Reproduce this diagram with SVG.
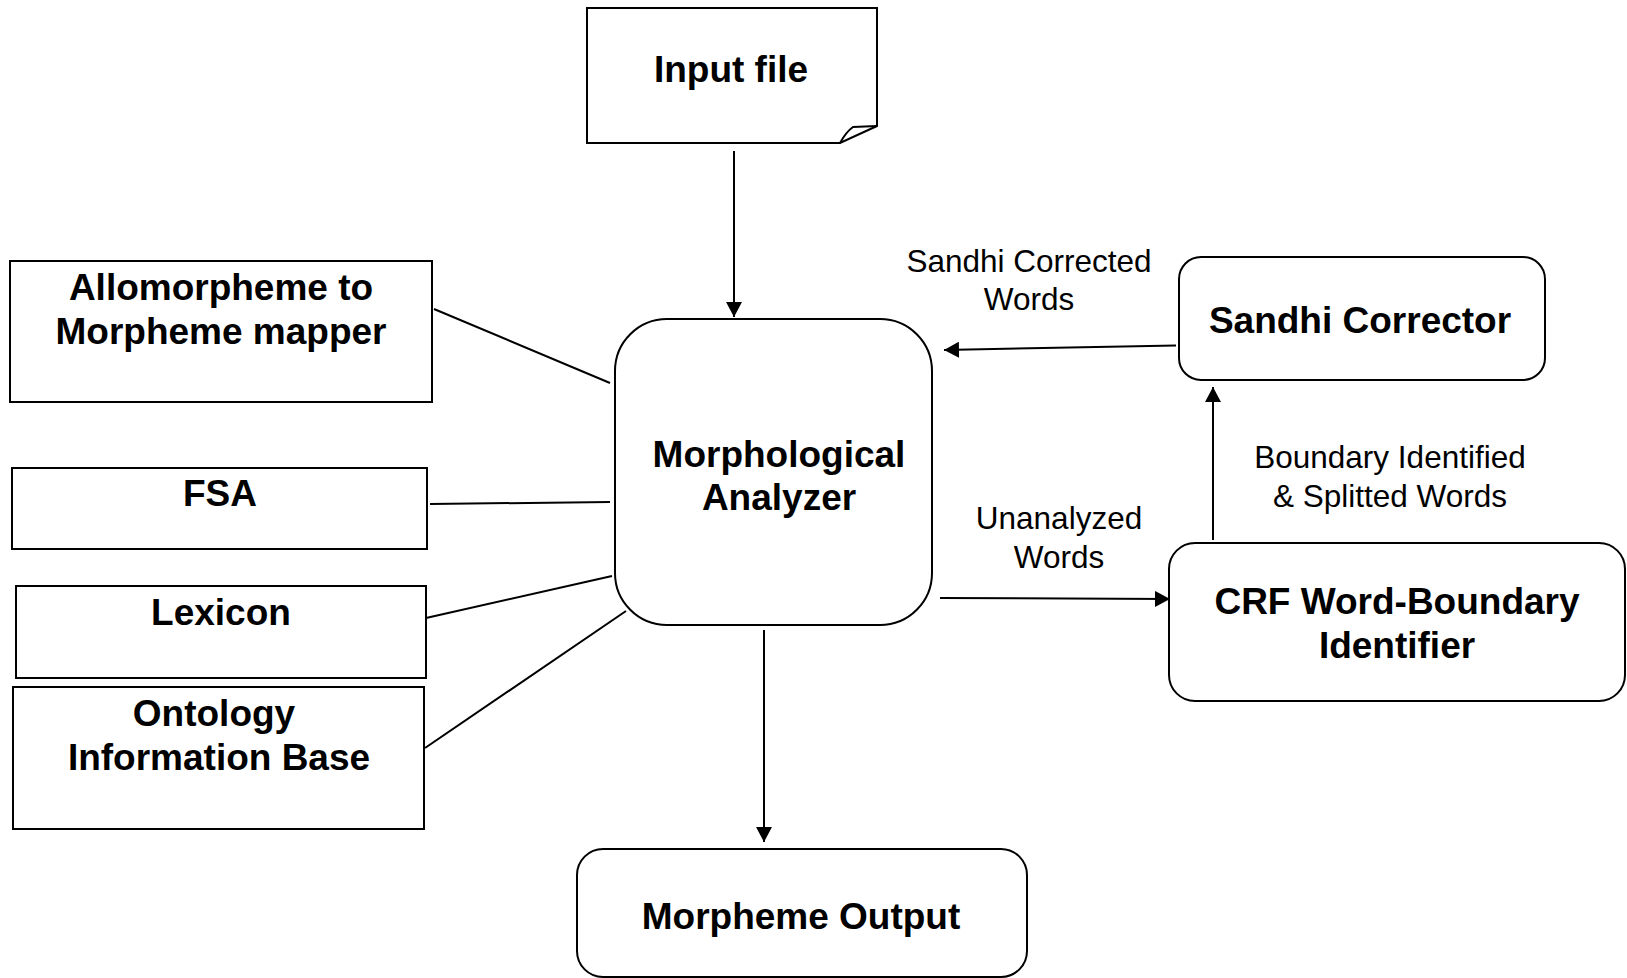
<svg xmlns="http://www.w3.org/2000/svg" width="1627" height="978" viewBox="0 0 1627 978">
<style>
.box{fill:#fff;stroke:#000;stroke-width:2}
.b{font-family:"Liberation Sans",Arial,sans-serif;font-weight:bold;font-size:37px;fill:#000;text-anchor:middle}
.r{font-family:"Liberation Sans",Arial,sans-serif;font-size:31.5px;fill:#000;text-anchor:middle}
.ln{stroke:#000;stroke-width:2;fill:none}
</style>
<defs>
<marker id="ah2" viewBox="0 0 15 16" refX="15" refY="8" markerWidth="15" markerHeight="16" markerUnits="userSpaceOnUse" orient="auto">
<path d="M0,0 L15,8 L0,16 z" fill="#000"/>
</marker>
</defs>
<rect width="1627" height="978" fill="#fff"/>
<g id="connectors">
<line class="ln" x1="734" y1="151" x2="734" y2="317" marker-end="url(#ah2)"/>
<line class="ln" x1="434" y1="309" x2="610" y2="383"/>
<line class="ln" x1="430" y1="504" x2="610" y2="502"/>
<line class="ln" x1="426" y1="618" x2="612" y2="576"/>
<line class="ln" x1="425" y1="748" x2="626" y2="611"/>
<line class="ln" x1="1176" y1="345.5" x2="944" y2="350" marker-end="url(#ah2)"/>
<line class="ln" x1="940" y1="598" x2="1170" y2="599" marker-end="url(#ah2)"/>
<line class="ln" x1="1213" y1="540" x2="1213" y2="387" marker-end="url(#ah2)"/>
<line class="ln" x1="764" y1="630" x2="764" y2="842" marker-end="url(#ah2)"/>
<text class="r" x="1029" y="272">Sandhi Corrected</text>
<text class="r" x="1029" y="310">Words</text>
<text class="r" x="1059" y="529">Unanalyzed</text>
<text class="r" x="1059" y="568">Words</text>
<text class="r" x="1390" y="468">Boundary Identified</text>
<text class="r" x="1390" y="507">&amp; Splitted Words</text>
</g>
<g id="input-file">
<path class="box" d="M587,8 H877 V126 L840,143 H587 Z"/>
<path class="ln" d="M840,143 Q846,132 853,127 L877,126"/>
<text class="b" x="731" y="82">Input file</text>
</g>
<g id="morphological-analyzer">
<rect class="box" x="615" y="319" width="317" height="306" rx="52" ry="52"/>
<text class="b" x="779" y="467">Morphological</text>
<text class="b" x="779" y="510">Analyzer</text>
</g>
<g id="allomorpheme">
<rect class="box" x="10" y="261" width="422" height="141"/>
<text class="b" x="221" y="300">Allomorpheme to</text>
<text class="b" x="221" y="344">Morpheme mapper</text>
</g>
<g id="fsa">
<rect class="box" x="12" y="468" width="415" height="81"/>
<text class="b" x="220" y="506">FSA</text>
</g>
<g id="lexicon">
<rect class="box" x="16" y="586" width="410" height="92"/>
<text class="b" x="221" y="625">Lexicon</text>
</g>
<g id="ontology">
<rect class="box" x="13" y="687" width="411" height="142"/>
<text class="b" x="214" y="726">Ontology</text>
<text class="b" x="219" y="770">Information Base</text>
</g>
<g id="sandhi-corrector">
<rect class="box" x="1179" y="257" width="366" height="123" rx="22" ry="22"/>
<text class="b" x="1360" y="333">Sandhi Corrector</text>
</g>
<g id="crf">
<rect class="box" x="1169" y="543" width="456" height="158" rx="26" ry="26"/>
<text class="b" x="1397" y="614">CRF Word-Boundary</text>
<text class="b" x="1397" y="658">Identifier</text>
</g>
<g id="morpheme-output">
<rect class="box" x="577" y="849" width="450" height="128" rx="26" ry="26"/>
<text class="b" x="801" y="929">Morpheme Output</text>
</g>
</svg>
